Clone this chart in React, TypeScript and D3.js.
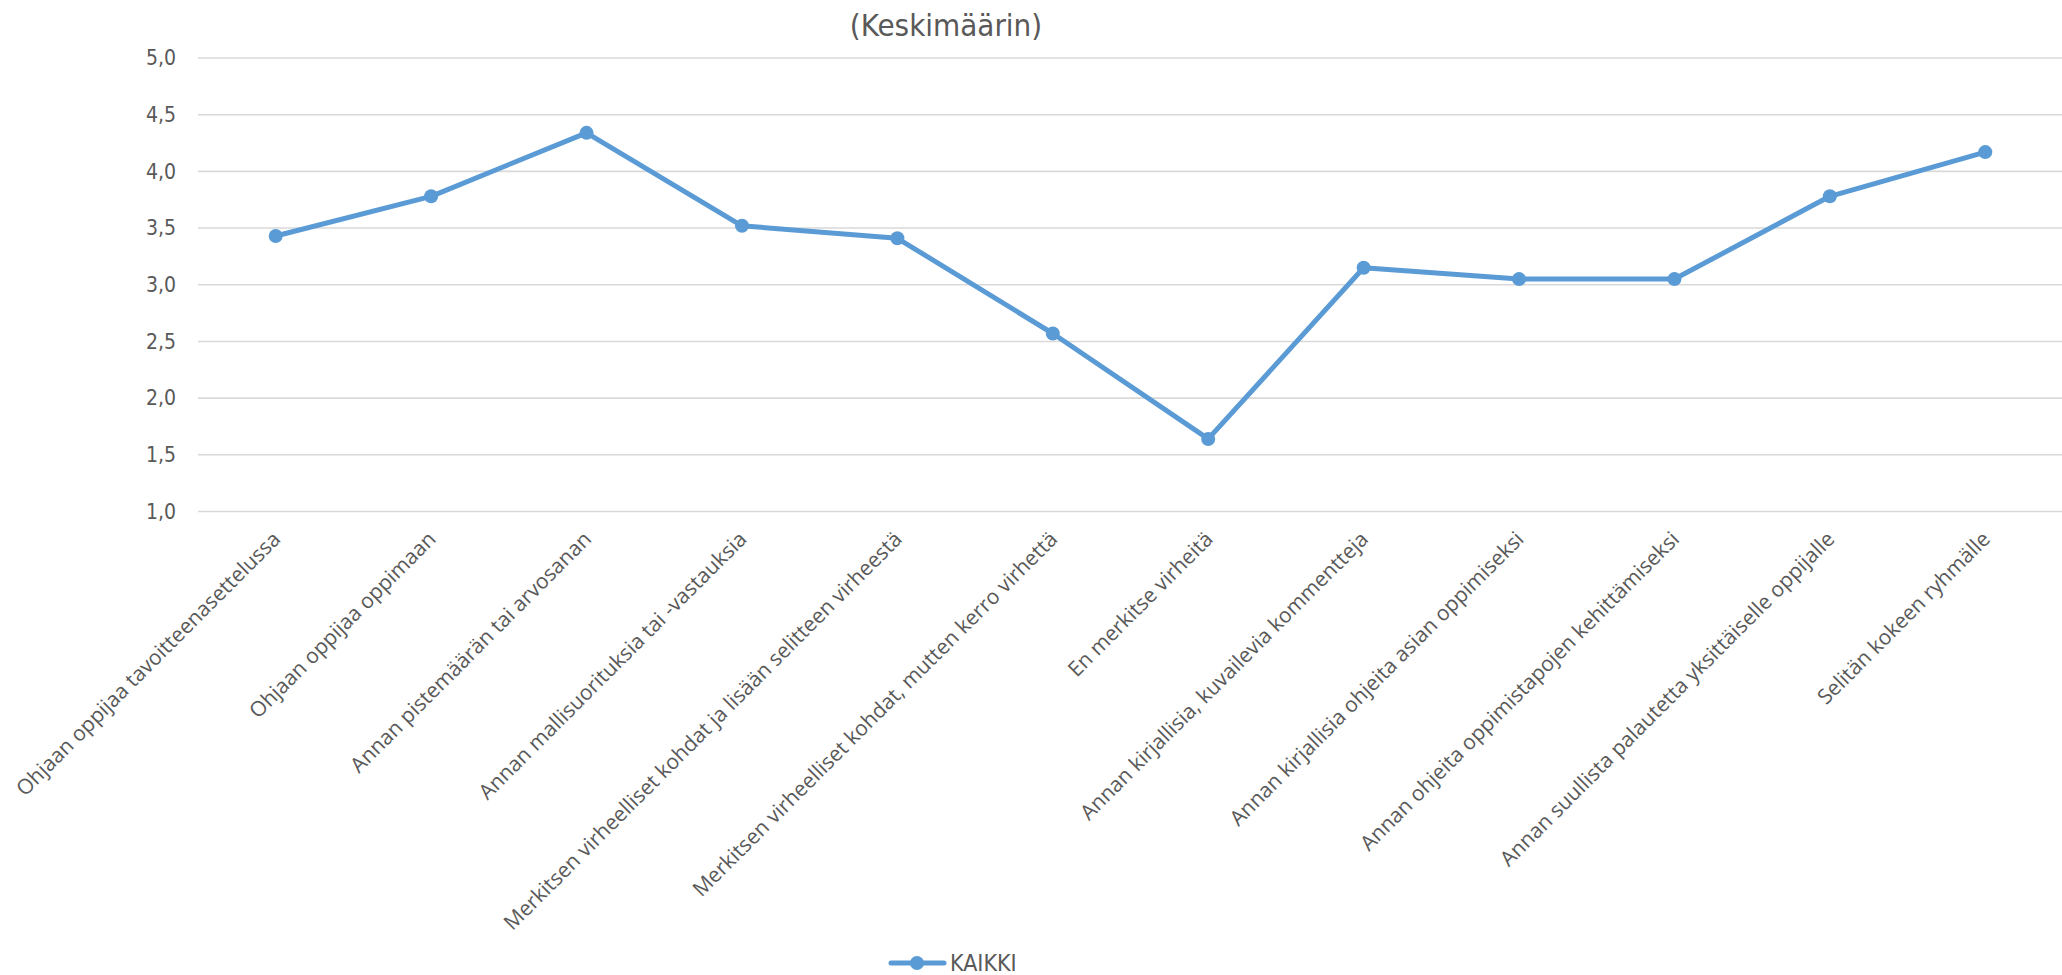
import React, { useEffect, useRef } from "react";
import * as d3 from "d3";

const categories = [
  "Ohjaan oppijaa tavoitteenasettelussa",
  "Ohjaan oppijaa oppimaan",
  "Annan pistemäärän tai arvosanan",
  "Annan mallisuorituksia tai -vastauksia",
  "Merkitsen virheelliset kohdat ja lisään selitteen virheestä",
  "Merkitsen virheelliset kohdat, mutten kerro virhettä",
  "En merkitse virheitä",
  "Annan kirjallisia, kuvailevia kommentteja",
  "Annan kirjallisia ohjeita asian oppimiseksi",
  "Annan ohjeita oppimistapojen kehittämiseksi",
  "Annan suullista palautetta yksittäiselle oppijalle",
  "Selitän kokeen ryhmälle",
];
const kaikki = [3.43, 3.78, 4.34, 3.52, 3.41, 2.57, 1.64, 3.15, 3.05, 3.05, 3.78, 4.17];
const yTicks = [1.0, 1.5, 2.0, 2.5, 3.0, 3.5, 4.0, 4.5, 5.0];
const seriesName = "KAIKKI";
const title = "(Keskimäärin)";

const W = 2062;
const H = 975;
const NARROW = "'Liberation Sans Narrow', 'DejaVu Sans Condensed', 'Arial Narrow', sans-serif";
const LABEL_FONT = "'Open Sans', 'Noto Sans', sans-serif";
const TEXT = "#595959";
const BLUE = "#5B9BD5";

export default function App() {
  const ref = useRef<SVGSVGElement>(null);
  useEffect(() => {
    const svg = d3.select(ref.current);
    svg.selectAll("*").remove();

    const left = 198, right = 2063, top = 58, bottom = 511.5;
    const x = d3.scaleBand<string>().domain(categories).range([left, right]);
    const y = d3.scaleLinear().domain([1, 5]).range([bottom, top]);
    const cx = (c: string) => (x(c) as number) + x.bandwidth() / 2;

    svg.append("rect").attr("width", W).attr("height", H).attr("fill", "#fff");

    // title
    svg.append("text")
      .attr("x", 946).attr("y", 36)
      .attr("text-anchor", "middle")
      .attr("font-family", NARROW).attr("font-size", 31)
      .attr("fill", TEXT)
      .text(title);

    // gridlines
    const g = svg.append("g");
    g.selectAll("line.grid").data(yTicks).join("line")
      .attr("x1", left).attr("x2", right)
      .attr("y1", (d) => y(d)).attr("y2", (d) => y(d))
      .attr("stroke", "#D9D9D9").attr("stroke-width", 1.6);

    // y tick labels
    g.selectAll("text.yt").data(yTicks).join("text")
      .attr("x", 176).attr("y", (d) => y(d))
      .attr("dy", "0.35em")
      .attr("text-anchor", "end")
      .attr("font-family", NARROW).attr("font-size", 21)
      .attr("fill", TEXT)
      .text((d) => d3.format(".1f")(d).replace(".", ","));

    // x labels
    g.selectAll("text.xl").data(categories).join("text")
      .attr("transform", (d) => `translate(${cx(d) + 6},${bottom + 29}) rotate(-45)`)
      .attr("text-anchor", "end")
      .attr("font-family", LABEL_FONT).attr("font-size", 21)
      .attr("fill", TEXT)
      .text((d) => d);

    // line
    const line = d3.line<number>()
      .x((_, i) => cx(categories[i]))
      .y((d) => y(d));
    g.append("path").datum(kaikki)
      .attr("d", line)
      .attr("fill", "none").attr("stroke", BLUE)
      .attr("stroke-width", 5).attr("stroke-linejoin", "round").attr("stroke-linecap", "round");
    g.selectAll("circle.pt").data(kaikki).join("circle")
      .attr("cx", (_, i) => cx(categories[i]))
      .attr("cy", (d) => y(d))
      .attr("r", 7).attr("fill", BLUE);

    // legend
    const lg = svg.append("g");
    lg.append("line").attr("x1", 891).attr("x2", 944).attr("y1", 963).attr("y2", 963)
      .attr("stroke", BLUE).attr("stroke-width", 5).attr("stroke-linecap", "round");
    lg.append("circle").attr("cx", 917).attr("cy", 963).attr("r", 7).attr("fill", BLUE);
    lg.append("text").attr("x", 950).attr("y", 971)
      .attr("font-family", NARROW).attr("font-size", 23)
      .attr("fill", TEXT).text(seriesName);
  }, []);
  return (
    <svg ref={ref} width={W} height={H}
      style={{ position: "absolute", left: 0, top: 0, display: "block" }} />
  );
}
